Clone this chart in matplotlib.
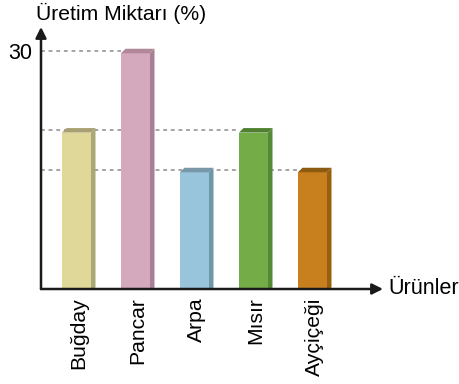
import numpy as np
import matplotlib.pyplot as plt
from matplotlib.patches import Polygon

plt.rcParams['font.family'] = ['Liberation Sans', 'DejaVu Sans']

# Datos
urunler = ['Buğday', 'Pancar', 'Arpa', 'Mısır', 'Ayçiçeği']
degerler = [20, 30, 15, 20, 15]
renk_on = ['#e0d898', '#d4a8bd', '#98c4dc', '#74ac48', '#c8801e']
renk_yan = ['#aba877', '#a88095', '#7097a8', '#548a36', '#98600e']
renk_ust = ['#a8a070', '#b08898', '#7898a8', '#4e8030', '#8c5a10']

W, H = 460, 384
fig = plt.figure(figsize=(W / 100, H / 100), dpi=100)

# ejes ubicados en pixeles
x0px, y0px, x1px, ytop = 41, 289, 383, 27
ax = fig.add_axes([x0px / W, (H - y0px) / H, (x1px - x0px) / W, (y0px - ytop) / H])
paso = 59.0
xmin = (x0px - 76.5) / paso
xmax = (x1px - 76.5) / paso
ax.set_xlim(xmin, xmax)
ppu = 238 / 30.0
ax.set_ylim(0, (y0px - ytop) / ppu)

ancho = 29 / paso
dx = 4.5 / paso
dy = 4.5 / ppu

x = np.arange(len(urunler))

# lineas punteadas hasta la ultima barra con ese valor
for v in sorted(set(degerler)):
    ult = max(i for i, d in enumerate(degerler) if d == v)
    ax.plot([xmin, x[ult] - ancho / 2], [v, v], color='#8c8c8c', lw=1.1,
            ls=(0, (2.5, 2.5)), zorder=1)

for i, v in enumerate(degerler):
    l = x[i] - ancho / 2
    r = x[i] + ancho / 2
    f = v - dy / 2
    ax.add_patch(Polygon([(l, 0), (r, 0), (r, f), (l, f)], closed=True,
                         fc=renk_on[i], ec='none', zorder=3))
    ax.add_patch(Polygon([(r, 0), (r + dx, dy * 0.3), (r + dx, f + dy), (r, f)],
                         closed=True, fc=renk_yan[i], ec='none', zorder=3))
    ax.add_patch(Polygon([(l, f), (r, f), (r + dx, f + dy), (l + dx, f + dy)],
                         closed=True, fc=renk_ust[i], ec='none', zorder=3))

for s in ax.spines.values():
    s.set_visible(False)

# flechas de los ejes
ax.annotate('', xy=(0, 1), xytext=(0, 0), xycoords='axes fraction',
            arrowprops=dict(arrowstyle='-|>', color='#1a1a1a', lw=1.8,
                            mutation_scale=16, shrinkA=0, shrinkB=0), zorder=5)
ax.annotate('', xy=(1, 0), xytext=(0, 0), xycoords='axes fraction',
            arrowprops=dict(arrowstyle='-|>', color='#1a1a1a', lw=1.8,
                            mutation_scale=16, shrinkA=0, shrinkB=0), zorder=5)

ax.set_yticks([30])
ax.set_yticklabels(['30'], fontsize=15.5)
ax.set_xticks(x + dx / 2)
ax.set_xticklabels(urunler, rotation=90, fontsize=15.2, va='top', ha='center')
ax.tick_params(axis='both', length=0)
ax.tick_params(axis='y', pad=6)
ax.tick_params(axis='x', pad=6)

fig.text(36 / W, 1 - 13 / H, 'Üretim Miktarı (%)', fontsize=15.2, va='center', ha='left')
fig.text(388 / W, 1 - 288 / H, 'Ürünler', fontsize=15.5, va='center', ha='left')

fig.savefig('out.png', dpi=100, facecolor='white')
